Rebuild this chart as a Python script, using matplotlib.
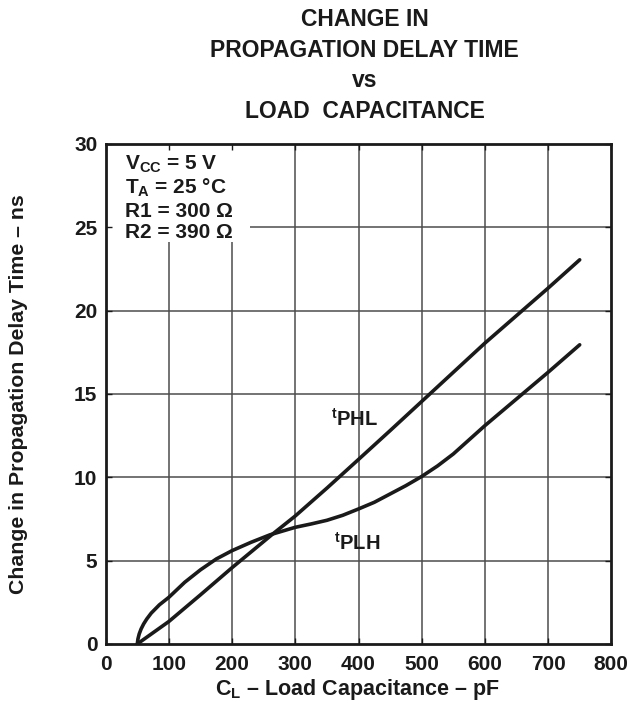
import matplotlib
matplotlib.use('Agg')
import matplotlib.pyplot as plt
from matplotlib.patches import Rectangle

plt.rcParams['font.family'] = ['Liberation Sans', 'DejaVu Sans']
plt.rcParams['font.weight'] = 'bold'
plt.rcParams['mathtext.fontset'] = 'custom'
plt.rcParams['mathtext.rm'] = 'Liberation Sans:bold'
plt.rcParams['mathtext.it'] = 'Liberation Sans:bold'
plt.rcParams['mathtext.bf'] = 'Liberation Sans:bold'

# load capacitance (pF) vs change in delay (ns)
cl_phl = [50, 100, 150, 200, 265, 300, 350, 400, 450, 500, 600, 700, 750]
t_phl = [0, 1.35, 2.95, 4.58, 6.62, 7.68, 9.35, 11.07, 12.8, 14.55, 18.05, 21.35, 23.05]

cl_plh = [50, 51, 53, 56, 60, 65, 72, 85, 100, 125, 150, 175, 200, 230, 260, 300,
          325, 350, 375, 400, 425, 450, 475, 500, 525, 550, 575, 600, 650, 700, 750]
t_plh = [0, 0.3, 0.6, 0.9, 1.2, 1.5, 1.85, 2.35, 2.8, 3.7, 4.45, 5.1, 5.6, 6.1, 6.55, 7.0,
         7.2, 7.42, 7.72, 8.1, 8.5, 9.0, 9.5, 10.05, 10.68, 11.4, 12.25, 13.1, 14.7, 16.3, 17.95]

xticks = [0, 100, 200, 300, 400, 500, 600, 700, 800]
yticks = [0, 5, 10, 15, 20, 25, 30]

fig = plt.figure(figsize=(6.3, 7.11), dpi=100)
ax = fig.add_axes([0.1678, 0.0943, 0.8025, 0.7032])

ax.set_xlim(0, 800)
ax.set_ylim(0, 30)

# grid drawn by hand so the condition box can hide it
ax.vlines(xticks[1:-1], 0, 30, color='#4d4d4d', lw=1.1, zorder=0.8)
ax.hlines(yticks[1:-1], 0, 800, color='#4d4d4d', lw=1.1, zorder=0.8)
ax.add_patch(Rectangle((0, 24.1), 228, 5.9, facecolor='white', edgecolor='none', zorder=1))

ax.plot(cl_phl, t_phl, color='#1a1a1a', lw=2.6, zorder=3, solid_capstyle='round')
ax.plot(cl_plh, t_plh, color='#1a1a1a', lw=2.6, zorder=3, solid_capstyle='round')

ax.set_xticks(xticks)
ax.set_yticks(yticks)
ax.tick_params(direction='in', length=4, width=1, top=True, right=True,
               labelsize=15, colors='#1a1a1a')
ax.tick_params(axis='x', pad=8)
ax.tick_params(axis='y', pad=6)
for lab in ax.get_xticklabels() + ax.get_yticklabels():
    lab.set_fontweight('bold')
for s in ax.spines.values():
    s.set_linewidth(2.0)
    s.set_color('#1a1a1a')

ax.text(357, 13.1, r'$\mathregular{^{t}PHL}$', fontsize=14.5, color='#1a1a1a', zorder=4)
ax.text(362, 5.64, r'$\mathregular{^{t}PLH}$', fontsize=14.5, color='#1a1a1a', zorder=4)

cond = [r'$\mathregular{V_{CC}}$ = 5 V',
        r'$\mathregular{T_{A}}$ = 25 °C',
        'R1 = 300 Ω',
        'R2 = 390 Ω']
cond_y = [28.45, 27.0, 25.6, 24.35]
for line, yy in zip(cond, cond_y):
    ax.text(30.5, yy, line, fontsize=15, fontweight='bold',
            color='#1a1a1a', va='baseline', zorder=4)

title = ['CHANGE IN', 'PROPAGATION DELAY TIME', 'vs', 'LOAD  CAPACITANCE']
for i, line in enumerate(title):
    fig.text(0.579, 1 - (26 + i * 30.7) / 711, line, fontsize=16.5, fontweight='bold',
             color='#1a1a1a', ha='center', va='baseline')

fig.text(0.568, 1 - 690 / 711, r'$\mathregular{C_L}$ – Load Capacitance – pF',
         fontsize=15.5, fontweight='bold', color='#1a1a1a', ha='center', va='center')
fig.text(0.029, 1 - 394 / 711, 'Change in Propagation Delay Time – ns', rotation=90,
         fontsize=15.3, fontweight='bold', color='#1a1a1a', ha='center', va='center')

fig.savefig('out.png', dpi=100)
